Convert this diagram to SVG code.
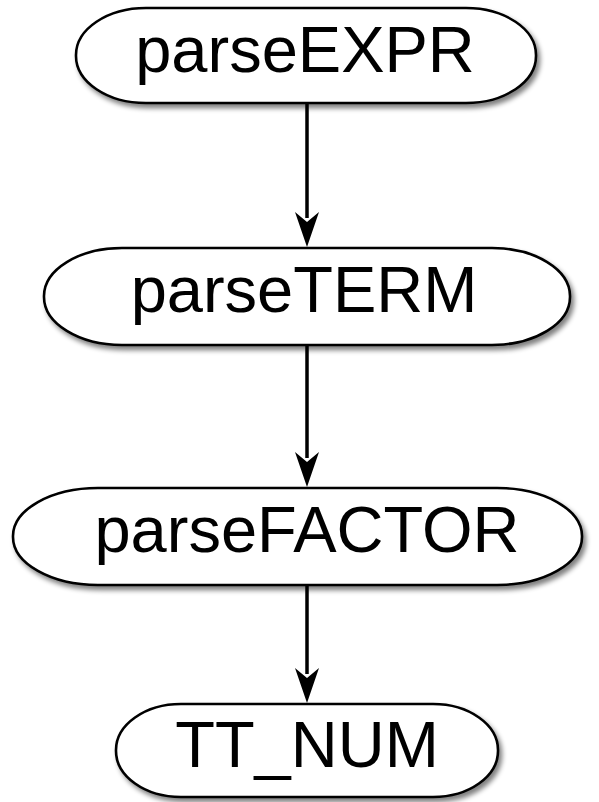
<svg xmlns="http://www.w3.org/2000/svg" width="599" height="802" viewBox="0 0 599 802">
<defs>
<filter id="sh" x="-10%" y="-20%" width="130%" height="150%">
<feGaussianBlur in="SourceAlpha" stdDeviation="2.5"/>
<feOffset dx="3" dy="4" result="b"/>
<feComponentTransfer><feFuncA type="linear" slope="0.5"/></feComponentTransfer>
<feMerge><feMergeNode/><feMergeNode in="SourceGraphic"/></feMerge>
</filter>
</defs>
<style>
.node rect{fill:#fff;stroke:#000;stroke-width:2.6;filter:url(#sh)}
.node text{font-family:"Liberation Sans",Arial,Helvetica,sans-serif;font-size:65px;fill:#000;text-anchor:middle}
.edge{stroke:#000;stroke-width:3.5;fill:none}
.head{fill:#000}
</style>
<g id="connectors">
<line class="edge" x1="307" y1="104" x2="307" y2="218"/>
<path class="head" d="M307,247 L295,212 L307,222 L319,212 Z"/>
<line class="edge" x1="307" y1="346" x2="307" y2="458"/>
<path class="head" d="M307,487 L295,452 L307,462 L319,452 Z"/>
<line class="edge" x1="307" y1="586" x2="307" y2="674"/>
<path class="head" d="M307,703 L295,668 L307,678 L319,668 Z"/>
</g>
<g id="n1" class="node">
<rect x="76" y="8" width="460" height="95" rx="70" ry="47"/>
<text x="305" y="72">parseEXPR</text>
</g>
<g id="n2" class="node">
<rect x="44" y="248" width="526" height="97" rx="78" ry="48"/>
<text x="304" y="312">parseTERM</text>
</g>
<g id="n3" class="node">
<rect x="13" y="488" width="569" height="97" rx="85" ry="48"/>
<text x="307" y="552">parseFACTOR</text>
</g>
<g id="n4" class="node">
<rect x="116" y="704" width="382" height="93" rx="65" ry="46"/>
<text x="307" y="767">TT_NUM</text>
</g>
</svg>
